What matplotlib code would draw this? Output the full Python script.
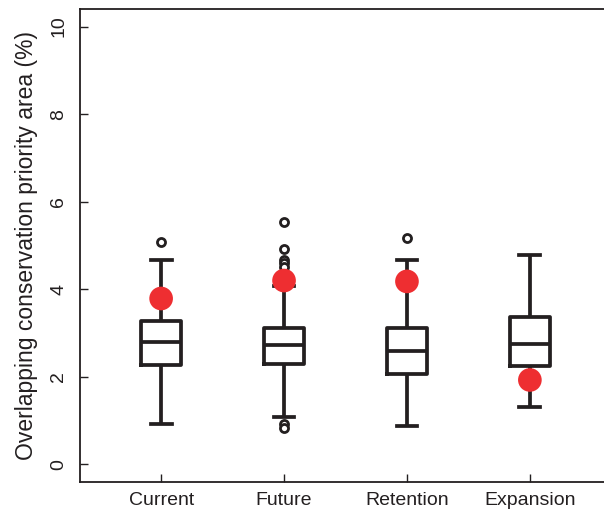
import matplotlib
matplotlib.use("Agg")
import matplotlib.pyplot as plt

plt.rcParams["font.family"] = ["Liberation Sans", "DejaVu Sans"]

# Data
groups     = ["Current", "Future", "Retention", "Expansion"]
whisk_low  = [0.92, 1.08, 0.88, 1.32]
box_low    = [2.27, 2.29, 2.06, 2.25]
medians    = [2.80, 2.73, 2.60, 2.75]
box_high   = [3.28, 3.12, 3.11, 3.37]
whisk_high = [4.66, 4.07, 4.66, 4.78]
outliers   = [[5.08], [5.54, 4.91, 4.68, 4.59, 4.50, 0.92, 0.83], [5.16], []]
observed   = [3.79, 4.20, 4.18, 1.93]

stats = []
for i, g in enumerate(groups):
    stats.append({"label": g, "whislo": whisk_low[i], "q1": box_low[i], "med": medians[i],
                  "q3": box_high[i], "whishi": whisk_high[i], "fliers": outliers[i]})

fig = plt.figure(figsize=(6.04, 5.09), dpi=100)
ax = fig.add_axes([80 / 604, 27 / 509, 531 / 604, 473 / 509])

pos = list(range(1, len(groups) + 1))
lw = 2.7
ink = "#231f20"
ax.bxp(stats, positions=pos, widths=0.32, showfliers=True,
       boxprops=dict(color=ink, linewidth=lw),
       medianprops=dict(color=ink, linewidth=lw),
       whiskerprops=dict(color=ink, linewidth=lw, solid_capstyle="butt"),
       capprops=dict(color=ink, linewidth=lw),
       capwidths=0.17,
       flierprops=dict(marker="o", markersize=5.8, markerfacecolor="white",
                       markeredgecolor=ink, markeredgewidth=2.0))

ax.scatter(pos, observed, s=290, color="#ee2e31", edgecolors="none", zorder=5)

ax.set_xlim(0.34, 4.66)
ax.set_ylim(-0.4, 10.4)
ax.set_yticks([0, 2, 4, 6, 8, 10])
ax.set_xticks(pos)
ax.set_xticklabels(groups)
ax.tick_params(direction="in", length=6, width=1, colors=ink, labelsize=14)
ax.tick_params(axis="y", labelrotation=90, pad=9)
ax.tick_params(axis="x", pad=7)
for t in ax.get_yticklabels():
    t.set_va("center")
for s in ax.spines.values():
    s.set_linewidth(1.3)
    s.set_color(ink)

ax.set_ylabel("Overlapping conservation priority area (%)", fontsize=16.5, color=ink, labelpad=9)

fig.savefig("out.png", dpi=100)
